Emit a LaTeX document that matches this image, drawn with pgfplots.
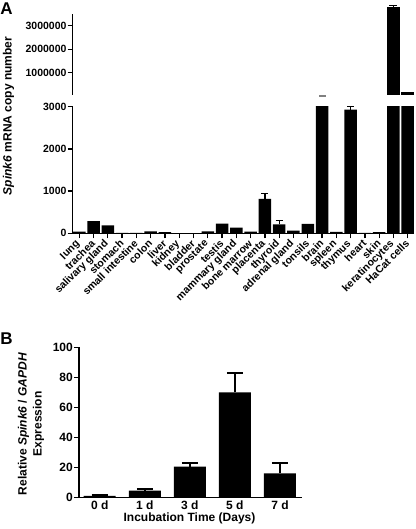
\documentclass[border=0pt]{standalone}
\usepackage{fontspec}
\setmainfont{Liberation Sans}
\usepackage{graphicx}
\usepackage{pgfplots}
\pgfplotsset{compat=1.18}
\pgfplotsset{prism/.style={
  scale only axis,
  axis line style={line width=1.5bp},
  tick style={line width=1.3bp, black},
  major tick length=5bp,
  tick align=outside,
  /pgf/number format/assume math mode=true,
  /pgf/number format/fixed,
  /pgf/number format/1000 sep={},
  scaled y ticks=false,
  yticklabel style={font=\bfseries\fontsize{10.5bp}{12bp}\selectfont, inner sep=1bp},
}}
\newcommand{\rl}[1]{\rotatebox{45}{#1}}
\begin{document}
\begin{tikzpicture}
\useasboundingbox (0,0) rectangle (416bp,529bp);
% Panel A, upper segment
\begin{axis}[prism, at={(72.7bp,434bp)}, anchor=south west, width=341.3bp, height=81bp,
  xmin=-0.46, xmax=23.44, ymin=50000, ymax=3500000,
  axis y line*=left, axis x line=none, xtick=\empty,
  ytick={1000000,2000000,3000000}, clip=false]
\addplot[ybar, bar width=12.5bp, fill=black, draw=none,
  error bars/.cd, y dir=plus, y explicit,
  error bar style={line width=1.3bp, black},
  error mark options={rotate=90, mark size=4bp, line width=1.3bp, black}]
  coordinates {(22,3780000) +- (0,90000)};
\addplot[ybar, bar width=12.5bp, fill=black, draw=none]
  coordinates {(23,166000)};
\addplot[only marks, mark=-, mark size=3.5bp, gray, line width=1.2bp]
  coordinates {(17,10000)};
\end{axis}
% Panel A, lower segment
\begin{axis}[prism, at={(72.7bp,295.7bp)}, anchor=south west, width=341.3bp, height=126.6bp,
  xmin=-0.46, xmax=23.44, ymin=0, ymax=3000,
  axis x line*=bottom, axis y line*=left,
  ytick={0,1000,2000,3000},
  xtick={0,...,23},
  xticklabels={\rl{lung},\rl{trachea},\rl{salivary gland},\rl{stomach},\rl{small intestine},\rl{colon},\rl{liver},\rl{kidney},\rl{bladder},\rl{prostate},\rl{testis},\rl{mammary gland},\rl{bone marrow},\rl{placenta},\rl{thyroid},\rl{adrenal gland},\rl{tonsils},\rl{brain},\rl{spleen},\rl{thymus},\rl{heart},\rl{skin},\rl{keratinocytes},\rl{HaCat cells}},
  x tick label style={font=\bfseries\fontsize{10.5bp}{12bp}\selectfont, inner sep=0.5bp, anchor=north east, xshift=3bp}]
\addplot[ybar, bar width=12.5bp, fill=black, draw=none,
  error bars/.cd, y dir=plus, y explicit,
  error bar style={line width=1.3bp, black},
  error mark options={rotate=90, mark size=3.5bp, line width=1.3bp, black}]
  coordinates {(13,815) +- (0,120) (14,210) +- (0,90) (19,2930) +- (0,70)};
\addplot[ybar, bar width=12.5bp, fill=black, draw=none, restrict y to domain*=0:3200]
  coordinates {(0,40) (1,290) (2,190) (3,10) (4,8) (5,45) (6,30) (7,5) (8,5) (9,45)
  (10,230) (11,135) (12,40) (15,65) (16,225) (17,3500) (18,35) (20,10) (21,30)
  (22,3780000) (23,166000)};
\end{axis}
% Panel B
\begin{axis}[prism, at={(79bp,31.7bp)}, anchor=south west, width=223bp, height=150bp,
  xmin=-0.46, xmax=4.49, ymin=0, ymax=100,
  axis x line*=bottom, axis y line*=left,
  ytick={0,20,40,60,80,100},
  xtick={0,...,4}, xticklabels={0 d,1 d,3 d,5 d,7 d},
  x tick style={draw=none},
  yticklabel style={font=\bfseries\fontsize{12bp}{14bp}\selectfont},
  xticklabel style={font=\bfseries\fontsize{12bp}{14bp}\selectfont, inner sep=1bp, yshift=3bp}]
\addplot[ybar, bar width=32bp, fill=black, draw=none,
  error bars/.cd, y dir=plus, y explicit,
  error bar style={line width=2.2bp, black},
  error mark options={rotate=90, mark size=8bp, line width=2.2bp, black}]
  coordinates {(0,1) +- (0,0.3) (1,4.4) +- (0,0.9) (2,20.4) +- (0,2.6) (3,70) +- (0,13) (4,16) +- (0,6.7)};
\end{axis}
% Labels
\node[font=\bfseries\fontsize{17bp}{19bp}\selectfont] at (6.5bp,520bp) {A};
\node[font=\bfseries\fontsize{17bp}{19bp}\selectfont] at (6.5bp,190bp) {B};
\node[rotate=90, inner sep=0, font=\bfseries\fontsize{12bp}{14bp}\selectfont] at (8.5bp,413bp) {\textit{Spink6} mRNA copy number};
\node[rotate=90, inner sep=0, align=center, font=\bfseries\fontsize{12bp}{15bp}\selectfont] at (31bp,105bp) {Relative \textit{Spink6} / \textit{GAPDH}\\Expression};
\node[inner sep=0, font=\bfseries\fontsize{12bp}{14bp}\selectfont] at (189.5bp,11bp) {Incubation Time (Days)};
\end{tikzpicture}
\end{document}
